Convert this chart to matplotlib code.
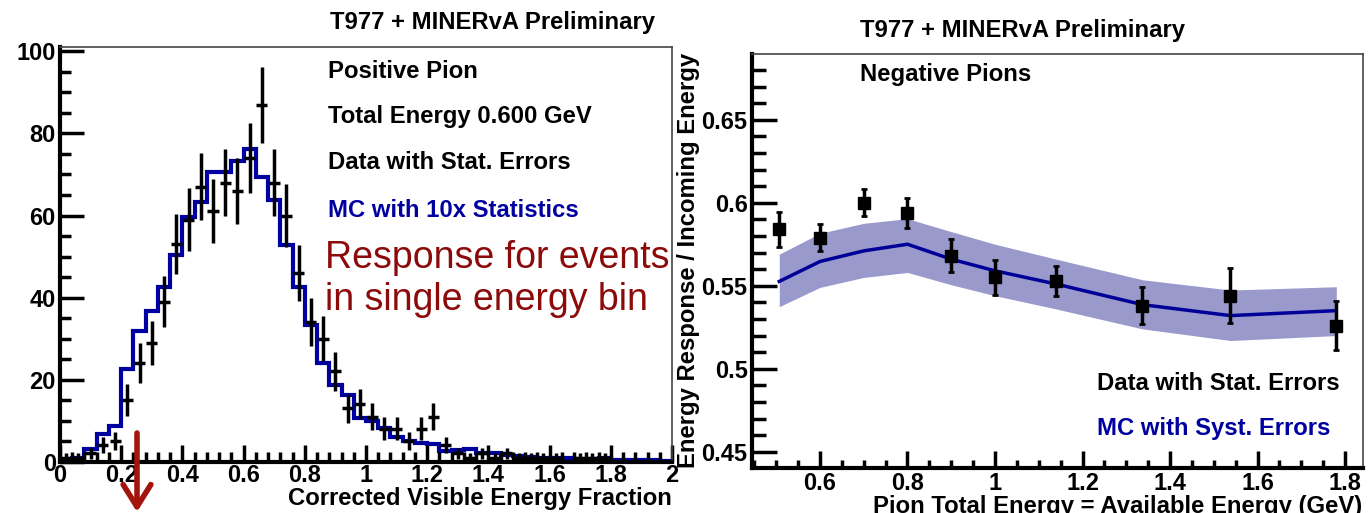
import numpy as np
import matplotlib
matplotlib.use("Agg")
import matplotlib.pyplot as plt
from matplotlib.ticker import MultipleLocator, FuncFormatter

plt.rcParams['font.family'] = ['Liberation Sans', 'DejaVu Sans']
plt.rcParams['font.weight'] = 'bold'

# ---------------- Left panel data ----------------
bin_lo, bin_hi, n_bins = 0.0, 2.0, 50
data_counts = [1, 1, 2, 4, 5, 15, 24, 29, 39, 53, 59, 67, 61, 68, 66, 74, 87, 68, 60, 46,
               34, 30, 22, 13, 14, 11, 8, 8, 5, 8, 11, 4, 2, 1, 2, 1, 2, 1, 1, 1,
               1, 0, 1, 1, 1, 0, 0, 0, 0, 0]
data_errors = [1.0, 1.0, 1.4, 2.0, 2.2, 3.9, 4.9, 5.4, 6.2, 7.3, 7.7, 8.2, 7.8, 8.2, 8.1, 8.6, 9.3, 8.2, 7.7, 6.8,
               5.8, 5.5, 4.7, 3.6, 3.7, 3.3, 2.8, 2.8, 2.2, 2.8, 3.3, 2.0, 1.4, 1.0, 1.4, 1.0, 1.4, 1.0, 1.0, 1.0,
               1.0, 0.0, 1.0, 1.0, 1.0, 0.0, 0.0, 0.0, 0.0, 0.0]
mc_counts = [0.3, 0.8, 3.0, 6.8, 8.7, 22.6, 31.9, 36.8, 42.7, 50.4, 59.6, 63.3, 70.5, 70.7, 73.4, 76.2, 69.4, 63.7, 52.9, 42.7,
             33.3, 24.0, 18.7, 16.3, 10.6, 10.0, 8.1, 6.1, 5.0, 4.6, 4.2, 2.5, 2.8, 3.0, 2.2, 2.0, 1.6, 1.4, 1.2, 1.0,
             1.0, 0.9, 0.6, 0.6, 0.8, 0.5, 0.4, 0.3, 0.3, 0.2]

# ---------------- Right panel data ----------------
pion_energy = [0.507, 0.6, 0.7, 0.8, 0.9, 1.0, 1.14, 1.337, 1.538, 1.78]
data_resp = [0.584, 0.579, 0.600, 0.594, 0.568, 0.555, 0.553, 0.538, 0.544, 0.526]
data_resp_err = [0.0105, 0.008, 0.008, 0.009, 0.010, 0.0105, 0.009, 0.011, 0.0165, 0.015]
mc_resp = [0.5526, 0.5646, 0.571, 0.575, 0.566, 0.559, 0.551, 0.5386, 0.532, 0.535]
mc_upper = [0.569, 0.5816, 0.5876, 0.5904, 0.5826, 0.575, 0.566, 0.5536, 0.5474, 0.5494]
mc_lower = [0.5374, 0.549, 0.555, 0.558, 0.5506, 0.544, 0.536, 0.524, 0.517, 0.520]

W, H = 1370, 513
fig = plt.figure(figsize=(W / 100, H / 100), dpi=100)
fig.patch.set_facecolor('white')

BLUE = '#0000a0'
DARKRED = '#8c0a0a'
TICKFS = 17
TXTFS = 17.2


def fmt(v, pos):
    return ('%g' % round(v, 3))


def style_axes(ax):
    for s in ['left', 'bottom']:
        ax.spines[s].set_linewidth(3)
        ax.spines[s].set_color('black')
    for s in ['top', 'right']:
        ax.spines[s].set_linewidth(1.2)
        ax.spines[s].set_color('#444444')
    ax.tick_params(which='both', direction='in', top=False, right=False, width=2.5,
                   labelsize=TICKFS)
    for lab in ax.get_xticklabels() + ax.get_yticklabels():
        lab.set_fontweight('bold')


# ---------------- Left axes ----------------
axL = fig.add_axes([60 / W, 1 - 461.7 / H, 612 / W, 414.4 / H])
edges = np.linspace(bin_lo, bin_hi, n_bins + 1)
centers = 0.5 * (edges[:-1] + edges[1:])
axL.stairs(mc_counts, edges, color=BLUE, linewidth=3, baseline=None)
dc = np.array(data_counts, dtype=float)
de = np.array(data_errors, dtype=float)
m = dc > 0
axL.errorbar(centers[m], dc[m], yerr=de[m], xerr=0.018, fmt='none', ecolor='black',
             elinewidth=2.5, capsize=0)
axL.set_xlim(0, 2)
axL.set_ylim(0, 101)
axL.xaxis.set_major_locator(MultipleLocator(0.2))
axL.xaxis.set_minor_locator(MultipleLocator(0.04))
axL.yaxis.set_major_locator(MultipleLocator(20))
axL.yaxis.set_minor_locator(MultipleLocator(5))
axL.xaxis.set_major_formatter(FuncFormatter(fmt))
style_axes(axL)
axL.tick_params(axis='x', which='major', length=12, pad=2)
axL.tick_params(axis='x', which='minor', length=7)
axL.tick_params(axis='y', which='major', length=17, pad=3)
axL.tick_params(axis='y', which='minor', length=8)

tkw = dict(transform=fig.transFigure, fontsize=TXTFS, fontweight='bold')
fig.text(492 / W, 1 - 22 / H, 'T977 + MINERvA Preliminary', ha='center', va='center', **tkw)
fig.text(328 / W, 1 - 72 / H, 'Positive Pion', ha='left', va='center', **tkw)
fig.text(328 / W, 1 - 117 / H, 'Total Energy 0.600 GeV', ha='left', va='center', **tkw)
fig.text(328 / W, 1 - 163 / H, 'Data with Stat. Errors', ha='left', va='center', **tkw)
fig.text(328 / W, 1 - 211 / H, 'MC with 10x Statistics', ha='left', va='center', color=BLUE, **tkw)
fig.text(325 / W, 1 - 258 / H, 'Response for events', ha='left', va='center',
         transform=fig.transFigure, fontsize=27, fontweight='normal', color=DARKRED)
fig.text(325 / W, 1 - 300 / H, 'in single energy bin', ha='left', va='center',
         transform=fig.transFigure, fontsize=27, fontweight='normal', color=DARKRED)
fig.text(672 / W, 1 - 499 / H, 'Corrected Visible Energy Fraction', ha='right', va='center', **tkw)

# red arrow
fig.add_artist(matplotlib.patches.FancyArrowPatch(
    (137 / W, 1 - 433 / H), (137 / W, 1 - 512 / H), transform=fig.transFigure,
    arrowstyle='->,head_length=0.8,head_width=0.5', color='#a3150c', linewidth=4,
    mutation_scale=20, shrinkA=0, shrinkB=0))

# ---------------- Right axes ----------------
axR = fig.add_axes([751.7 / W, 1 - 468 / H, 611.3 / W, 414 / H])
axR.fill_between(pion_energy, mc_lower, mc_upper, color='#9999cc', linewidth=0)
axR.plot(pion_energy, mc_resp, color='#000099', linewidth=2.5)
axR.errorbar(pion_energy, data_resp, yerr=data_resp_err, fmt='s', color='black',
             markersize=8, elinewidth=2.5, capsize=2.5, capthick=2)
axR.set_xlim(0.444, 1.841)
axR.set_ylim(0.4402, 0.6896)
axR.xaxis.set_major_locator(MultipleLocator(0.2))
axR.xaxis.set_minor_locator(MultipleLocator(0.05))
axR.yaxis.set_major_locator(MultipleLocator(0.05))
axR.yaxis.set_minor_locator(MultipleLocator(0.01))
axR.xaxis.set_major_formatter(FuncFormatter(fmt))
axR.yaxis.set_major_formatter(FuncFormatter(fmt))
style_axes(axR)
axR.tick_params(axis='x', which='major', length=12, pad=3)
axR.tick_params(axis='x', which='minor', length=6)
axR.tick_params(axis='y', which='major', length=18, pad=3)
axR.tick_params(axis='y', which='minor', length=10)

fig.text(1023 / W, 1 - 30 / H, 'T977 + MINERvA Preliminary', ha='center', va='center', **tkw)
fig.text(860 / W, 1 - 75 / H, 'Negative Pions', ha='left', va='center', **tkw)
fig.text(1097 / W, 1 - 383 / H, 'Data with Stat. Errors', ha='left', va='center', **tkw)
fig.text(1097 / W, 1 - 428 / H, 'MC with Syst. Errors', ha='left', va='center', color=BLUE, **tkw)
fig.text(1362 / W, 1 - 507 / H, 'Pion Total Energy = Available Energy (GeV)', ha='right', va='center', **tkw)
fig.text(688 / W, 1 - 260 / H, 'Energy Response / Incoming Energy', ha='center', va='center',
         rotation=90, **tkw)

fig.savefig('out.png', dpi=100, facecolor='white')
